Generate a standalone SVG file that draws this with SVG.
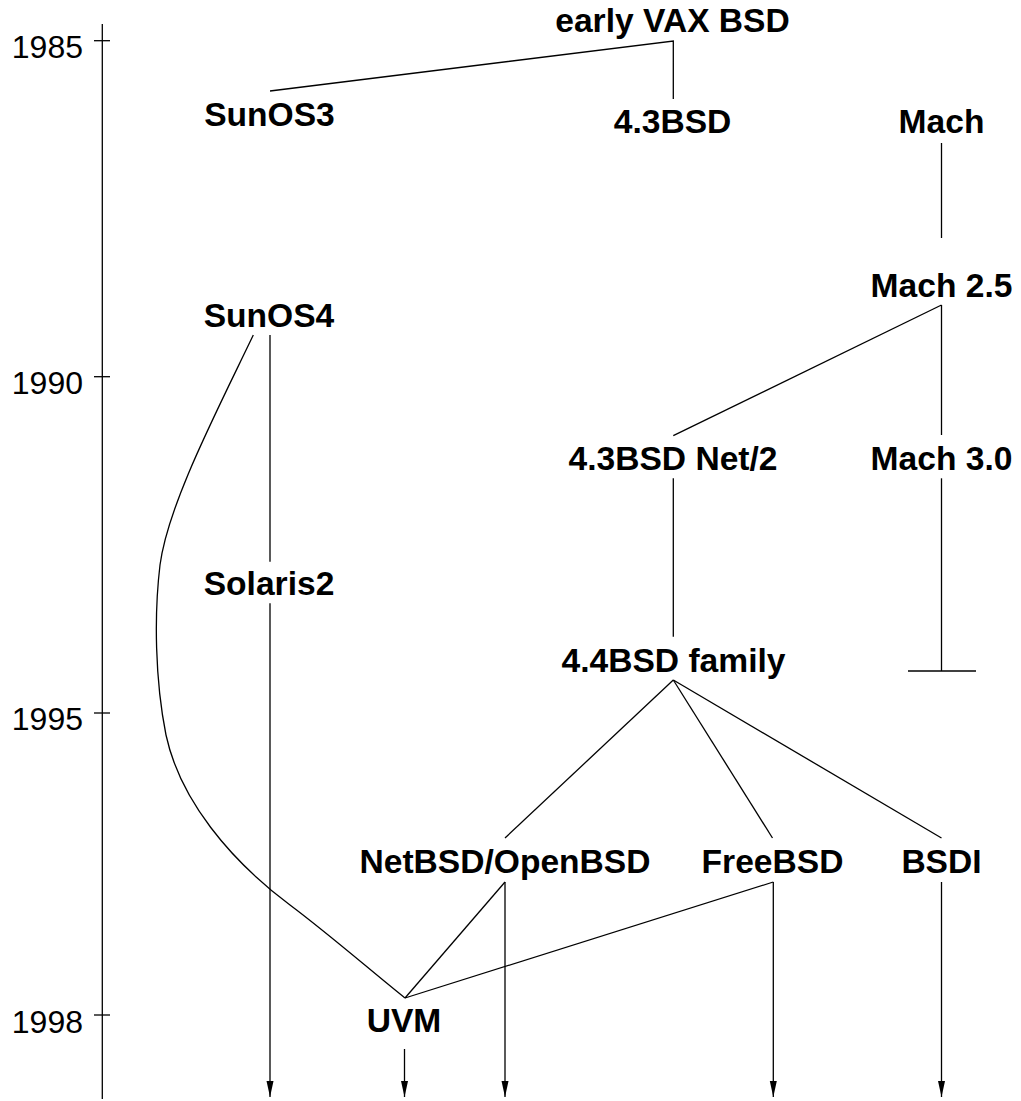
<svg xmlns="http://www.w3.org/2000/svg" width="1021" height="1101" viewBox="0 0 1021 1101">
<style>
.n{font-family:"Liberation Sans",Arial,sans-serif;font-weight:bold;font-size:33.6px;text-anchor:middle;fill:#000}
.y{font-family:"Liberation Sans",Arial,sans-serif;font-size:32px;text-anchor:end;fill:#000}
.l{stroke:#000;stroke-width:1.3;fill:none}
</style>
<defs>
<marker id="a" markerUnits="userSpaceOnUse" markerWidth="17" markerHeight="8" refX="16" refY="4" orient="auto" viewBox="0 0 17 8">
<path d="M0,0.5 L16,4 L0,7.5 Z" fill="#000"/>
</marker>
</defs>
<rect width="1021" height="1101" fill="#fff"/>
<g id="axis">
<line class="l" x1="102.3" y1="24" x2="102.3" y2="1099"/>
<line class="l" x1="94" y1="40.7" x2="110" y2="40.7"/>
<line class="l" x1="94" y1="376.7" x2="110" y2="376.7"/>
<line class="l" x1="94" y1="713" x2="110" y2="713"/>
<line class="l" x1="94" y1="1015" x2="110" y2="1015"/>
<text class="y" x="83" y="58">1985</text>
<text class="y" x="83" y="394">1990</text>
<text class="y" x="83" y="730">1995</text>
<text class="y" x="83" y="1032.5">1998</text>
</g>
<g id="connectors">
<path class="l" d="M270,91 L673.3,41 L673.3,99"/>
<line class="l" x1="941.5" y1="143" x2="941.5" y2="238"/>
<line class="l" x1="941.5" y1="305" x2="673.3" y2="435.7"/>
<line class="l" x1="941.5" y1="305" x2="941.5" y2="435"/>
<line class="l" x1="673.3" y1="478.3" x2="673.3" y2="636.7"/>
<line class="l" x1="941.5" y1="478.3" x2="941.5" y2="671"/>
<line class="l" x1="908" y1="671" x2="976" y2="671"/>
<line class="l" x1="673.3" y1="680" x2="505" y2="838"/>
<line class="l" x1="673.3" y1="680" x2="772.5" y2="838"/>
<line class="l" x1="673.3" y1="680" x2="941.5" y2="838"/>
<line class="l" x1="270" y1="335" x2="270" y2="561.7"/>
<path class="l" d="M253.3,335 C215,415 168,505 160,565 C154,615 155,680 166,735 C180,800 230,860 290,905 C330,935 370,970 405,998"/>
<line class="l" x1="505" y1="882" x2="405" y2="998"/>
<line class="l" x1="773.3" y1="882" x2="405" y2="998"/>
<line class="l" x1="270" y1="603.3" x2="270" y2="1097" marker-end="url(#a)"/>
<line class="l" x1="404.5" y1="1049" x2="404.5" y2="1097" marker-end="url(#a)"/>
<line class="l" x1="505" y1="882" x2="505" y2="1097" marker-end="url(#a)"/>
<line class="l" x1="773.3" y1="882" x2="773.3" y2="1097" marker-end="url(#a)"/>
<line class="l" x1="941.5" y1="882" x2="941.5" y2="1097" marker-end="url(#a)"/>
</g>
<g id="early-vax-bsd"><text class="n" x="672.5" y="32">early VAX BSD</text></g>
<g id="sunos3"><text class="n" x="269.5" y="125.5">SunOS3</text></g>
<g id="bsd43"><text class="n" x="672.5" y="133">4.3BSD</text></g>
<g id="mach"><text class="n" x="941.5" y="133">Mach</text></g>
<g id="mach25"><text class="n" x="941.5" y="297">Mach 2.5</text></g>
<g id="sunos4"><text class="n" x="269" y="326.5">SunOS4</text></g>
<g id="net2"><text class="n" x="673" y="470">4.3BSD Net/2</text></g>
<g id="mach30"><text class="n" x="941.5" y="470">Mach 3.0</text></g>
<g id="solaris2"><text class="n" x="269" y="595">Solaris2</text></g>
<g id="bsd44"><text class="n" x="673.5" y="671.5">4.4BSD family</text></g>
<g id="netbsd"><text class="n" x="505" y="873">NetBSD/OpenBSD</text></g>
<g id="freebsd"><text class="n" x="772.5" y="873">FreeBSD</text></g>
<g id="bsdi"><text class="n" x="941.5" y="873">BSDI</text></g>
<g id="uvm"><text class="n" x="404" y="1032">UVM</text></g>
</svg>
